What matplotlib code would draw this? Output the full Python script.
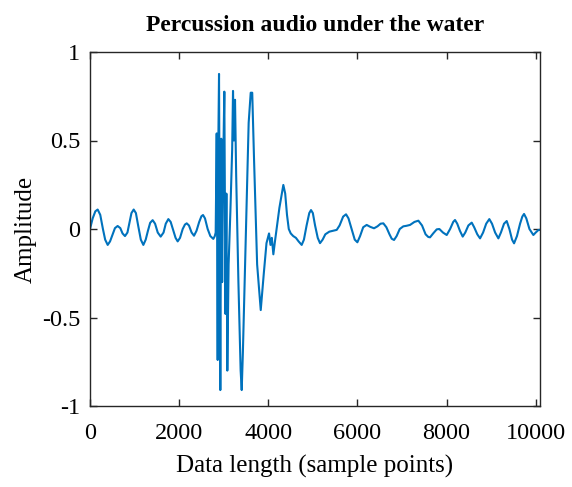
import matplotlib
matplotlib.use("Agg")
import matplotlib.pyplot as plt

# Sample positions and amplitudes
samples = [
    0, 60, 120, 172, 230, 290, 340, 397, 450, 510, 560, 620, 680, 730, 785, 840,
    890, 930, 980, 1030, 1080, 1140, 1197, 1250, 1300, 1350, 1406, 1460, 1520,
    1586, 1650, 1700, 1758, 1810, 1870, 1920, 1967, 2020, 2080, 2130, 2170, 2220,
    2280, 2334, 2390, 2450, 2500, 2536, 2580, 2640, 2700, 2767, 2800, 2820,
    2843, 2865, 2880, 2895, 2924, 2945, 2965, 2985, 3014, 3040, 3060, 3081, 3110,
    3150, 3190, 3209, 3230, 3254, 3280, 3330, 3380, 3404, 3430, 3500, 3560, 3606,
    3640, 3680, 3750, 3831, 3900, 3960, 4017, 4050, 4080, 4114, 4150, 4250, 4338,
    4380, 4420, 4460, 4504, 4560, 4620, 4680, 4750, 4800, 4860, 4920, 4959, 5000,
    5050, 5110, 5161, 5220, 5280, 5370, 5450, 5536, 5600, 5680, 5745, 5800, 5870,
    5940, 5999, 6060, 6130, 6208, 6290, 6373, 6450, 6520, 6582, 6650, 6720, 6770,
    6822, 6880, 6950, 7030, 7100, 7181, 7280, 7368, 7450, 7530, 7590, 7630, 7700,
    7780, 7839, 7920, 8004, 8080, 8150, 8190, 8240, 8300, 8363, 8420, 8490, 8565,
    8620, 8690, 8752, 8820, 8890, 8960, 9020, 9090, 9163, 9220, 9290, 9350, 9410,
    9470, 9515, 9580, 9650, 9700, 9739, 9790, 9860, 9948, 10000, 10060, 10097,
]
amplitude = [
    0.0, 0.06, 0.10, 0.11, 0.08, 0.0, -0.06, -0.09, -0.07, -0.03, 0.005, 0.017,
    0.005, -0.025, -0.04, -0.02, 0.04, 0.09, 0.11, 0.09, 0.02, -0.06, -0.09,
    -0.06, -0.01, 0.035, 0.05, 0.03, -0.02, -0.043, -0.02, 0.03, 0.056, 0.04,
    -0.01, -0.05, -0.07, -0.05, 0.0, 0.025, 0.032, 0.02, -0.02, -0.038, -0.01,
    0.04, 0.072, 0.079, 0.06, 0.0, -0.04, -0.056, -0.04, -0.02,
    0.54, -0.74, 0.50, 0.876, -0.91, 0.51, -0.30, 0.30, 0.776, -0.48, 0.20,
    -0.80, -0.20, 0.10, 0.45, 0.78, 0.50, 0.73, 0.30, -0.30, -0.80, -0.91,
    -0.70, 0.0, 0.60, 0.77, 0.77, 0.40, -0.20, -0.458, -0.25, -0.08, -0.025,
    -0.09, -0.05, -0.143, -0.07, 0.12, 0.249,
    0.20, 0.08, 0.0, -0.025, -0.04, -0.05, -0.07, -0.09, -0.06, 0.02, 0.09,
    0.107, 0.09, 0.02, -0.05, -0.08, -0.06, -0.03, -0.015, -0.01, -0.005, 0.02,
    0.07, 0.083, 0.06, 0.0, -0.06, -0.075, -0.04, 0.01, 0.023, 0.012, 0.004,
    0.015, 0.03, 0.032, 0.01, -0.03, -0.055, -0.062, -0.04, 0.0, 0.015, 0.018,
    0.023, 0.04, 0.047, 0.02, -0.03, -0.045, -0.047, -0.025, -0.002, 0.0, -0.02,
    -0.034, 0.0, 0.04, 0.051, 0.03, -0.01, -0.043, -0.02, 0.02, 0.036, 0.01,
    -0.03, -0.053, -0.02, 0.03, 0.056, 0.03, -0.02, -0.053, -0.02, 0.03, 0.045,
    0.0, -0.06, -0.081, -0.04, 0.03, 0.07, 0.085, 0.06, 0.0, -0.034, -0.02,
    -0.006, -0.005,
]
x_ticks = [0, 2000, 4000, 6000, 8000, 10000]
y_ticks = [-1, -0.5, 0, 0.5, 1]
y_tick_labels = ["-1", "-0.5", "0", "0.5", "1"]

plt.rcParams["font.family"] = ["Liberation Serif", "DejaVu Serif"]

fig = plt.figure(figsize=(5.72, 4.87), dpi=100)
ax = fig.add_axes([90 / 572, (487 - 406) / 487, 450 / 572, 354 / 487])
ax.plot(samples, amplitude, color="#0072BD", linewidth=1.5)

ax.set_xlim(0, 10097)
ax.set_ylim(-1, 1)
ax.set_xticks(x_ticks)
ax.set_xticklabels([str(t) for t in x_ticks])
ax.set_yticks(y_ticks)
ax.set_yticklabels(y_tick_labels)
ax.tick_params(direction="in", length=5, width=1, top=True, right=True,
               labelsize=17.5, colors="#262626", labelcolor="black")
ax.tick_params(axis="x", pad=12)
ax.tick_params(axis="y", pad=7)
for s in ax.spines.values():
    s.set_linewidth(1.0)
    s.set_color("#262626")

ax.set_xlabel("Data length (sample points)", fontsize=18, labelpad=8)
ax.set_ylabel("Amplitude", fontsize=18, labelpad=4)
ax.set_title("Percussion audio under the water", fontsize=17,
             fontweight="bold", pad=15)

fig.savefig("out.png", dpi=100)
